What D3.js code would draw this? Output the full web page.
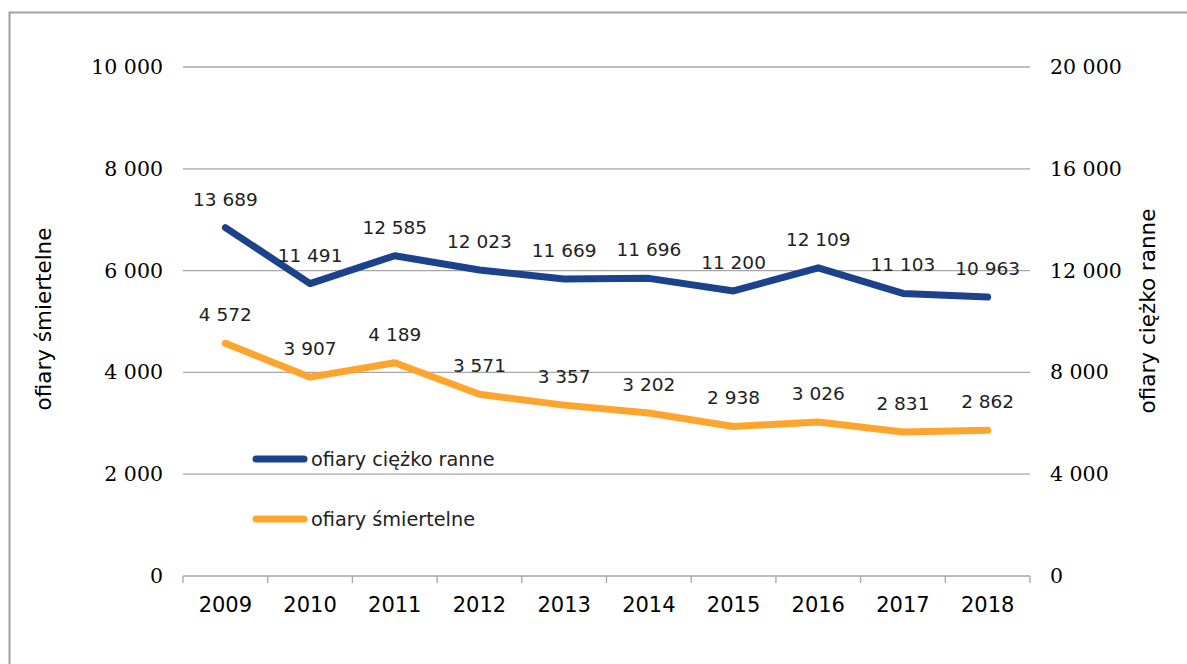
<!DOCTYPE html>
<html><head><meta charset="utf-8">
<script src="https://cdn.jsdelivr.net/npm/d3@7"></script>
<style>
body{margin:0;background:#fff;}
svg{display:block;}
</style></head>
<body>
<svg id="c" width="1187" height="664"></svg>
<script>
const years = ["2009","2010","2011","2012","2013","2014","2015","2016","2017","2018"];
const ranne = [13689, 11491, 12585, 12023, 11669, 11696, 11200, 12109, 11103, 10963];
const smiertelne = [4572, 3907, 4189, 3571, 3357, 3202, 2938, 3026, 2831, 2862];
const leftTicks = [0, 2000, 4000, 6000, 8000, 10000];
const rightTicks = [0, 4000, 8000, 12000, 16000, 20000];
const seriesNames = ["ofiary ciężko ranne", "ofiary śmiertelne"];
const leftTitle = "ofiary śmiertelne";
const rightTitle = "ofiary ciężko ranne";

const W = 1187, H = 664;
const m = {left: 183, right: 1030, top: 67, bottom: 576};
const svg = d3.select("#c");
const loc = d3.formatLocale({decimal: ",", thousands: " ", grouping: [3], currency: ["", ""]});
const fmt = loc.format(",d");

// frame
svg.append("rect").attr("x", 9.5).attr("y", 12.5).attr("width", 1200).attr("height", 700)
  .attr("fill", "none").attr("stroke", "#a0a0a0").attr("stroke-width", 2);

const x = d3.scaleBand().domain(years).range([m.left, m.right]);
const yL = d3.scaleLinear().domain([0, 10000]).range([m.bottom, m.top]);
const yR = d3.scaleLinear().domain([0, 20000]).range([m.bottom, m.top]);

// gridlines
svg.append("g").selectAll("line").data(leftTicks.filter(d => d > 0)).join("line")
  .attr("x1", m.left).attr("x2", m.right)
  .attr("y1", d => yL(d)).attr("y2", d => yL(d))
  .attr("stroke", "#a6a6a6").attr("stroke-width", 1.3);

// x axis
const gx = svg.append("g").attr("transform", `translate(0,${m.bottom})`)
  .call(d3.axisBottom(x).tickSize(0).tickPadding(0));
gx.select(".domain").remove();
gx.append("line").attr("x1", m.left).attr("x2", m.right).attr("stroke", "#a6a6a6").attr("stroke-width", 1.3);
const bounds = years.map(d => x(d)).concat([m.right]);
gx.selectAll(".bt").data(bounds).join("line").attr("class", "bt")
  .attr("x1", d => d).attr("x2", d => d).attr("y1", 0).attr("y2", 7)
  .attr("stroke", "#a6a6a6").attr("stroke-width", 1.3);
gx.selectAll(".tick text").attr("y", 36)
  .attr("dy", 0).attr("font-family", "DejaVu Sans, Verdana, sans-serif").attr("font-size", 21)
  .attr("fill", "#000");

// left axis
const gl = svg.append("g").attr("transform", `translate(${m.left},0)`)
  .call(d3.axisLeft(yL).tickValues(leftTicks).tickFormat(fmt).tickSize(0).tickPadding(20));
gl.select(".domain").remove();
gl.selectAll("text").attr("font-family", "DejaVu Serif, serif").attr("font-size", 20.5).attr("fill", "#000");

// right axis
const gr = svg.append("g").attr("transform", `translate(${m.right},0)`)
  .call(d3.axisRight(yR).tickValues(rightTicks).tickFormat(fmt).tickSize(0).tickPadding(20));
gr.select(".domain").remove();
gr.selectAll("text").attr("font-family", "DejaVu Serif, serif").attr("font-size", 20.5).attr("fill", "#000");

// axis titles
svg.append("text").attr("transform", `translate(51,319) rotate(-90)`).attr("text-anchor", "middle")
  .attr("font-family", "DejaVu Sans, Verdana, sans-serif").attr("font-size", 21.5).text(leftTitle);
svg.append("text").attr("transform", `translate(1155,311) rotate(-90)`).attr("text-anchor", "middle")
  .attr("font-family", "DejaVu Sans, Verdana, sans-serif").attr("font-size", 21.5).text(rightTitle);

const cx = d => x(d) + x.bandwidth() / 2;
const colors = ["#1b428b", "#ffa52d"];

const lineR = d3.line().x((d, i) => cx(years[i])).y(d => yR(d));
const lineL = d3.line().x((d, i) => cx(years[i])).y(d => yL(d));

svg.append("path").datum(smiertelne).attr("d", lineL).attr("fill", "none")
  .attr("stroke", colors[1]).attr("stroke-width", 7).attr("stroke-linejoin", "round").attr("stroke-linecap", "round");
svg.append("path").datum(ranne).attr("d", lineR).attr("fill", "none")
  .attr("stroke", colors[0]).attr("stroke-width", 7).attr("stroke-linejoin", "round").attr("stroke-linecap", "round");

// data labels
const lblFont = "DejaVu Sans, Verdana, sans-serif";
svg.append("g").selectAll("text").data(ranne).join("text")
  .attr("x", (d, i) => cx(years[i])).attr("y", d => yR(d) - 22)
  .attr("text-anchor", "middle").attr("font-family", lblFont).attr("font-size", 18.5).attr("fill", "#222")
  .text(d => fmt(d));
svg.append("g").selectAll("text").data(smiertelne).join("text")
  .attr("x", (d, i) => cx(years[i])).attr("y", d => yL(d) - 22)
  .attr("text-anchor", "middle").attr("font-family", lblFont).attr("font-size", 18.5).attr("fill", "#222")
  .text(d => fmt(d));

// legend
const lg = svg.append("g");
const legY = [459, 519];
seriesNames.forEach((n, i) => {
  lg.append("line").attr("x1", 256).attr("x2", 304).attr("y1", legY[i]).attr("y2", legY[i])
    .attr("stroke", colors[i]).attr("stroke-width", 7).attr("stroke-linecap", "round");
  lg.append("text").attr("x", 311).attr("y", legY[i]).attr("dy", "0.35em")
    .attr("font-family", lblFont).attr("font-size", 19.3).attr("fill", "#222").text(n);
});
</script>
</body></html>
